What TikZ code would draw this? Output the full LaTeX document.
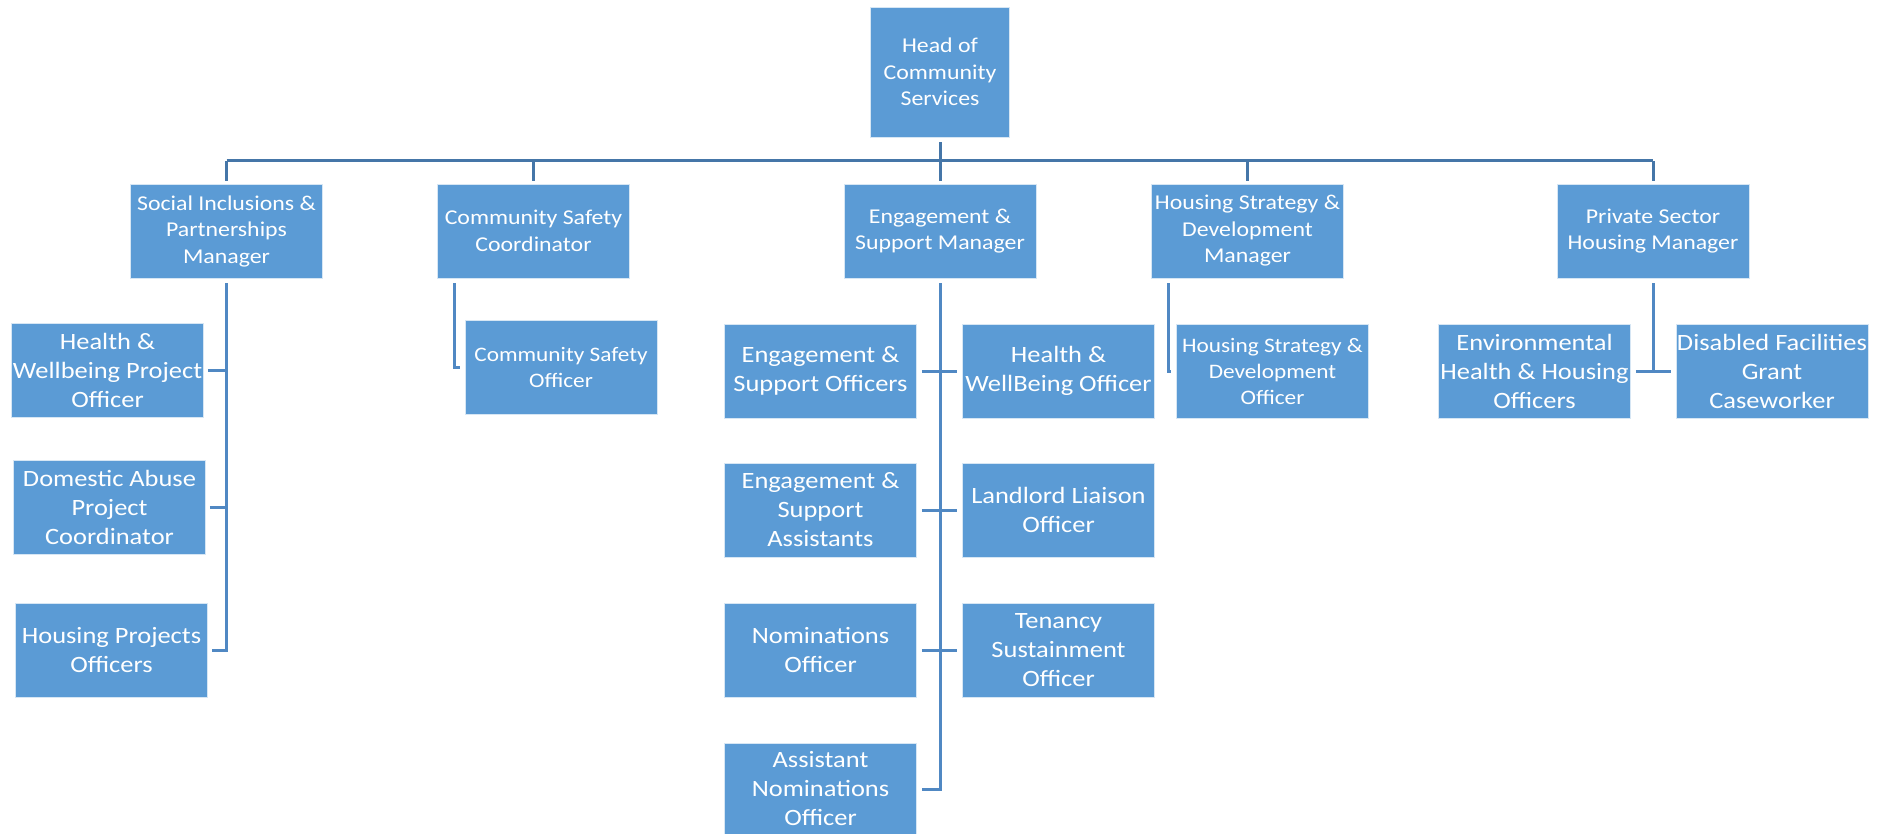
\documentclass[tikz,border=0pt]{standalone}
\usepackage{fontspec}
\setmainfont[FakeStretch=1.13]{Carlito}
\usetikzlibrary{positioning}
\definecolor{boxblue}{HTML}{5B9BD5}
\definecolor{busblue}{HTML}{4576A8}
\definecolor{linkblue}{HTML}{5088C3}
\tikzset{
  post/.style={fill=boxblue, draw=white!75!boxblue, line width=0.8pt, text=white,
               align=center, inner xsep=0pt, inner ysep=1pt},
  topbox/.style={post, minimum width=139pt, minimum height=130pt,
                 font=\fontsize{21.1}{26.5}\selectfont},
  mgr/.style={post, minimum width=192pt, minimum height=94pt,
              font=\fontsize{21.1}{26.5}\selectfont},
  staff/.style={post, minimum width=192pt, minimum height=94pt,
                font=\fontsize{23.4}{29}\selectfont},
  small/.style={font=\fontsize{20.6}{26}\selectfont},
  bus/.style={draw=busblue, line width=3pt},
  link/.style={draw=linkblue, line width=3pt},
}
\begin{document}
\begin{tikzpicture}[x=1pt, y=-1pt]
  \useasboundingbox (0,0) rectangle (1887,834);
  % top of the tree
  \node[topbox] (head) at (940,72) {Head of\\Community\\Services};
  % managers
  \node[mgr] (soc) at (226.5,231) {Social Inclusions \&\\Partnerships\\Manager};
  \node[mgr] (saf) at (533.5,231) {Community Safety\\Coordinator};
  \node[mgr] (eng) at (940,231) {Engagement \&\\Support Manager};
  \node[mgr] (hsd) at (1247.5,231) {Housing Strategy \&\\Development\\Manager};
  \node[mgr] (pri) at (1653,231) {Private Sector\\Housing Manager};
  % staff under social inclusions
  \node[staff] (hwp) at (107.5,370.5) {Health \&\\Wellbeing Project\\Officer};
  \node[staff] (dap) at (109.5,507) {Domestic Abuse\\Project\\Coordinator};
  \node[staff] (hpo) at (111.5,650) {Housing Projects\\Officers};
  % community safety
  \node[staff, small] (cso) at (561,367) {Community Safety\\Officer};
  % engagement and support
  \node[staff] (eso) at (820.5,371) {Engagement \&\\Support Officers};
  \node[staff] (esa) at (820.5,510) {Engagement \&\\Support\\Assistants};
  \node[staff] (nom) at (820.5,650) {Nominations\\Officer};
  \node[staff, minimum height=92pt] (ano) at (820.5,789) {Assistant\\Nominations\\Officer};
  \node[staff] (hwo) at (1058.5,371) {Health \&\\WellBeing Officer};
  \node[staff] (llo) at (1058.5,510) {Landlord Liaison\\Officer};
  \node[staff] (tso) at (1058.5,650) {Tenancy\\Sustainment\\Officer};
  % housing strategy
  \node[staff, small] (hso) at (1272.5,371) {Housing Strategy \&\\Development\\Officer};
  % private sector
  \node[staff] (env) at (1534.5,371) {Environmental\\Health \& Housing\\Officers};
  \node[staff] (dfg) at (1772,371) {Disabled Facilities\\Grant\\Caseworker};

  \coordinate (bus) at (940,161);
  \draw[bus, shorten <=5pt, shorten >=3pt] (head) -- (eng);
  \draw[bus] (soc.north |- bus) -- (pri.north |- bus);
  \foreach \m in {soc,saf,hsd,pri}
    \draw[bus, shorten <=3pt] (\m.north) -- (\m.north |- bus);

  % links to staff
  \draw[link, shorten <=5pt] (soc.south) |- ([xshift=4pt]hpo.east);
  \foreach \s in {hwp,dap}
    \draw[link, shorten <=4pt] (\s.east) -- (\s.east -| soc.south);
  \draw[link, shorten <=5pt] ([xshift=17pt]saf.south west) |- ([xshift=-5pt]cso.west);
  \draw[link, shorten <=5pt] ([xshift=17pt]hsd.south west) |- ([xshift=-5pt]hso.west);
  \draw[link, shorten <=5pt] (eng.south) |- ([xshift=5pt]ano.east);
  \draw[link, shorten <=5pt, shorten >=5pt] (eso.east) -- (hwo.west);
  \draw[link, shorten <=5pt, shorten >=5pt] (esa.east) -- (llo.west);
  \draw[link, shorten <=5pt, shorten >=5pt] (nom.east) -- (tso.west);
  \draw[link, shorten <=5pt] (pri.south) -- (pri.south |- env.east);
  \draw[link, shorten <=5pt, shorten >=5pt] (env.east) -- (dfg.west);
\end{tikzpicture}
\end{document}
